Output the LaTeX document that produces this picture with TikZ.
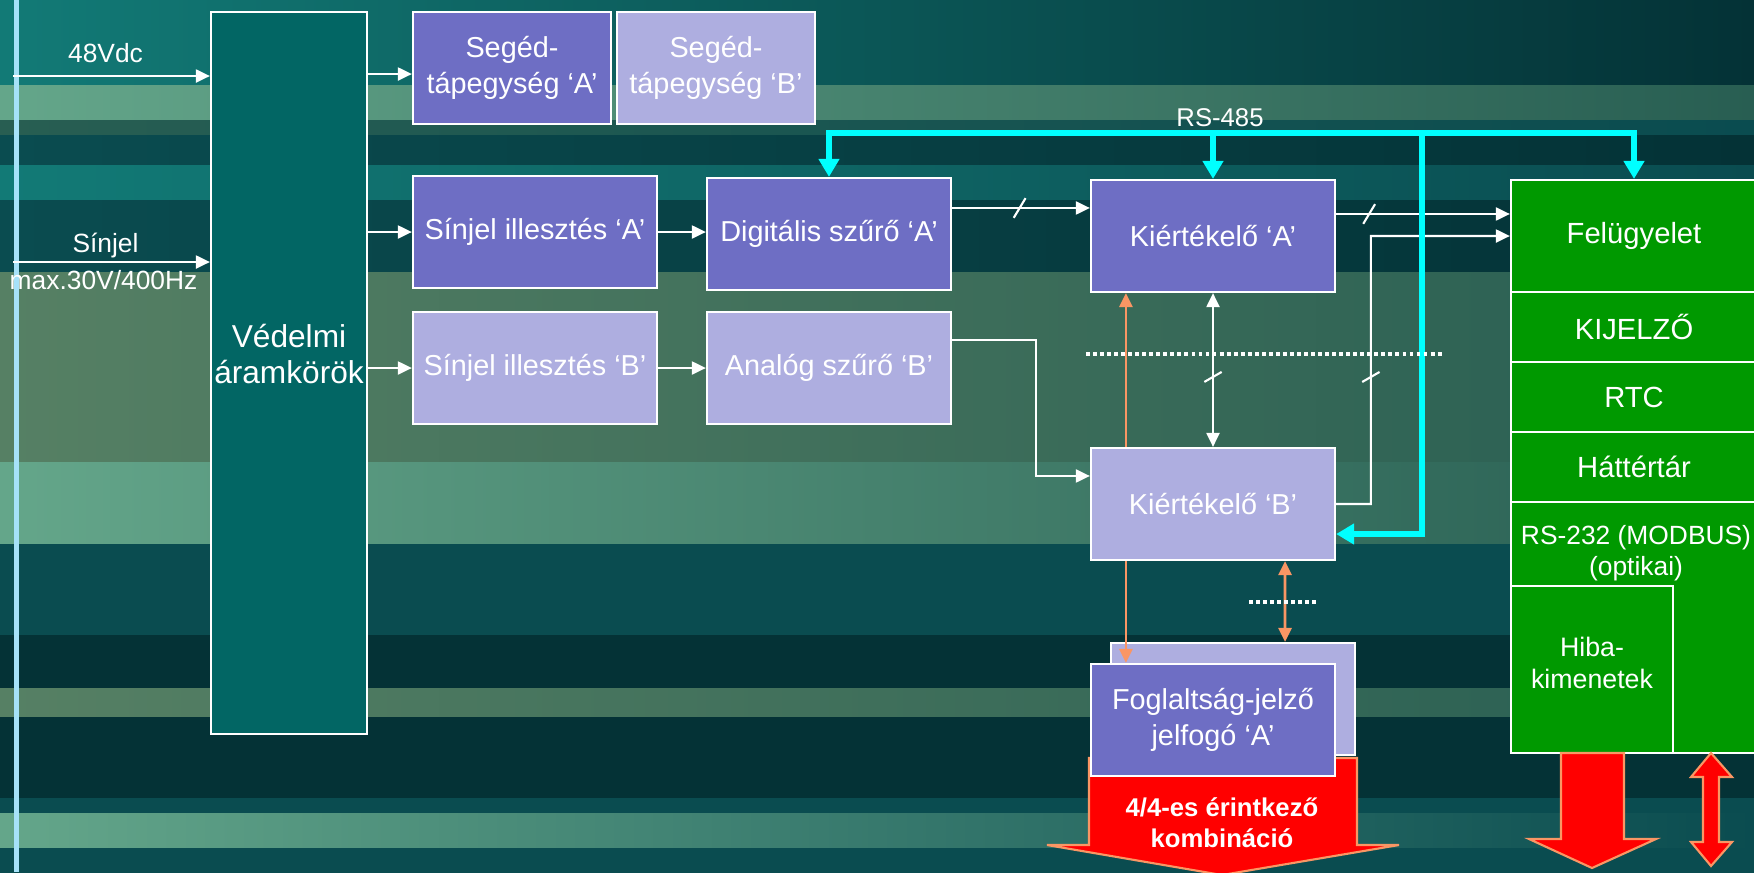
\documentclass[tikz,border=0pt]{standalone}
\usepackage{fontspec}
\setmainfont{Liberation Sans}
\usetikzlibrary{arrows.meta,calc}
\definecolor{boxA}{RGB}{110,110,196}
\definecolor{boxB}{RGB}{174,174,224}
\definecolor{protfill}{RGB}{2,102,100}
\definecolor{supgreen}{RGB}{0,153,0}
\definecolor{busblue}{RGB}{0,255,255}
\definecolor{relayline}{RGB}{250,150,100}
\definecolor{bgtop}{RGB}{18,122,118}
\definecolor{bgdeep}{RGB}{4,50,54}
\definecolor{bglight}{RGB}{100,166,138}
\definecolor{bgmoss}{RGB}{40,94,82}
\definecolor{bgmid}{RGB}{10,76,80}
\definecolor{bgolive}{RGB}{86,128,100}
\begin{document}
\begin{tikzpicture}
  [x=0.01cm,y=-0.01cm,
   block/.style={rectangle,draw=white,line width=0.6pt,inner sep=0pt,align=center,text=white,
     minimum width=2.44cm,minimum height=1.12cm,font=\fontsize{8.2}{10.4}\selectfont},
   blockA/.style={block,fill=boxA},
   blockB/.style={block,fill=boxB},
   cell/.style={block,fill=supgreen,minimum width=2.46cm,minimum height=0.7cm,font=\fontsize{8.3}{10}\selectfont},
   lbl/.style={text=white,align=center,font=\fontsize{7.5}{8.8}\selectfont},
   wire/.style={white,line width=0.6pt},
   sig/.style={wire,-{Triangle[length=1.4mm,width=1.3mm]}},
   dsig/.style={wire,{Triangle[length=1.4mm,width=1.3mm]}-{Triangle[length=1.4mm,width=1.3mm]}},
   link/.style={relayline,line width=0.8pt,-{Triangle[length=1.4mm,width=1.3mm]}},
   dlink/.style={relayline,line width=0.8pt,{Triangle[length=1.4mm,width=1.3mm]}-{Triangle[length=1.4mm,width=1.3mm]}},
   bus/.style={busblue,line width=1.8pt,-{Triangle[length=1.8mm,width=2mm]}},
   sepline/.style={white,line width=1.1pt,dash pattern=on 1.1pt off 0.9pt},
   slashmark/.style={fill=white,inner sep=0pt,minimum width=2.3mm,minimum height=0.6pt,rotate=59},
   vslash/.style={fill=white,inner sep=0pt,minimum width=2mm,minimum height=0.6pt,rotate=30},
   bigarrow/.style={draw=relayline,fill=red,line width=0.6pt}]
\path[use as bounding box] (0,0) rectangle (1754,872); % fixed frame
\foreach \ya/\yb/\cl/\cr in {0/85/bgtop/bgdeep,85/120/bglight/bgmoss,120/135/bgmoss/bgmid,
    135/165/bgmid/bgdeep,165/200/bgtop/bgmid,200/272/bgmid/bgdeep,272/462/bgolive/bgmoss,
    462/544/bglight/bgmoss,544/635/bgmid/bgmid,635/688/bgdeep/bgdeep,688/717/bgolive/bgmoss,
    717/798/bgdeep/bgdeep,798/813/bgmid/bgmid,813/848/bglight/bgmid,848/872/bgmid/bgmid}
  \shade[left color=\cl,right color=\cr] (0,\ya) rectangle (1754,\yb);
\fill[cyan!35!white] (14,0) rectangle (19,872);
%
\node at (289,373) (prot) [block,fill=protfill,minimum width=1.56cm,minimum height=7.22cm,
  text depth=3.9mm,font=\fontsize{9}{10.2}\selectfont] {Védelmi\\áramkörök};
\node at (512,68) (supA) [blockA,minimum width=1.98cm] {Segéd-\\tápegység ‘A’};
\node at (716,68) (supB) [blockB,minimum width=1.98cm] {Segéd-\\tápegység ‘B’};
\node at (535,232) (inA) [blockA] {Sínjel illesztés ‘A’};
\node at (535,368) (inB) [blockB] {Sínjel illesztés ‘B’};
\node at (829,234) (filtA) [blockA] {Digitális szűrő ‘A’};
\node at (829,368) (filtB) [blockB] {Analóg szűrő ‘B’};
\node at (1213,236) (evalA) [blockA] {Kiértékelő ‘A’};
\node at (1213,504) (evalB) [blockB] {Kiértékelő ‘B’};
\node at (1233,699) (relB) [blockB] {};
\path[bigarrow] (1089,758) -- (1357,758) -- (1357,845) -- (1399,845) -- (1222,875)
  -- (1047,845) -- (1089,845) -- cycle;
\node at (1213,720) (relA) [blockA] {Foglaltság-jelző\\jelfogó ‘A’};
\node at (1222,823) (combo) [lbl,font=\bfseries\fontsize{7.3}{8.8}\selectfont] {4/4-es érintkező\\kombináció};
%
\node at (1634,236) (sup) [cell,minimum height=1.12cm] {Felügyelet};
\node at (1634,327) (disp) [cell] {KIJELZŐ};
\node at (1634,397) (rtc) [cell] {RTC};
\node at (1634,467) (store) [cell] {Háttértár};
\node at (1634,627.5) (com) [cell,minimum height=2.51cm] {};
\node at (1636,553) (comtxt) [lbl] {RS-232 (MODBUS)\\(optikai)};
\node at (1592,669.5) (fault) [cell,minimum width=1.62cm,minimum height=1.67cm,text depth=1.4mm,
  font=\fontsize{7.6}{9.1}\selectfont] {Hiba-\\kimenetek};
\path[bigarrow] (1561,753) -- (1624,753) -- (1624,839) -- (1656,839) -- (1592,868)
  -- (1529,839) -- (1561,839) -- cycle;
\path[bigarrow] (1711,753) -- (1732,777) -- (1719,777) -- (1719,842) -- (1732,842) -- (1711,866)
  -- (1691,842) -- (1703,842) -- (1703,777) -- (1691,777) -- cycle;
%
\coordinate (dcin) at (13,76);
\coordinate (sigin) at (13,262);
\draw[sig] (dcin) -- (dcin -| prot.west) node[pos=0.47,above=0mm,lbl] (dclbl) {48Vdc};
\draw[sig] (sigin) -- (sigin -| prot.west)
  node[pos=0.47,above=-0.9mm,lbl] (siglbl) {Sínjel}
  node[pos=0.46,below=-0.4mm,lbl] (rangelbl) {max.30V/400Hz};
\coordinate (pa) at ([yshift=-0.6mm]supA.west);
\draw[sig] (prot.east |- pa) -- (pa);
\draw[sig] (prot.east |- inA.west) -- (inA.west);
\draw[sig] (prot.east |- inB.west) -- (inB.west);
\draw[sig] (inA.east) -- (inA.east -| filtA.west);
\draw[sig] (inB) -- (filtB);
\coordinate (fa) at ([yshift=2.6mm]filtA.east);
\draw[sig] (fa) -- (fa -| evalA.west) node[pos=0.49,slashmark] (cut1) {};
\coordinate (ea) at ([yshift=2.2mm]evalA.east);
\draw[sig] (ea) -- (ea -| sup.west) node[pos=0.19,slashmark] (cut2) {};
\coordinate (fb) at ([yshift=2.8mm]filtB.east);
\coordinate (kb) at ([yshift=2.8mm]evalB.west);
\draw[sig] (fb) -| ($(fb)!0.61!(kb)$) |- (kb);
\coordinate (kbout) at ($(evalB.east)!0.2!(evalB.east -| sup.west)$);
\draw[sig] (evalB.east) -- (kbout) -- (kbout |- sup.west) node[pos=0.474,vslash] (cut3) {} -- (sup.west);
\draw[dsig] (evalA.south) -- (evalB.north) node[pos=0.545,vslash] (cut4) {};
%
\coordinate (tap) at (1422,133);
\draw[bus] (tap) -| (filtA.north);
\draw[bus] (tap) -| (sup.north);
\draw[bus] (tap) |- ([yshift=-3mm]evalB.east);
\draw[bus] (evalA.north |- tap) -- (evalA.north);
\node at (evalA.north |- tap) (rs485) [lbl,above=-0.6mm,xshift=0.07cm,font=\fontsize{7.3}{8.8}\selectfont] {RS-485};
%
\draw[link] ([xshift=-8.7mm]evalB.north) -- ([xshift=-8.7mm]evalA.south);
\draw[link] ([xshift=-8.7mm]evalB.south) -- ([xshift=-8.7mm]relA.north);
\draw[dlink] ([xshift=7.2mm]evalB.south) -- ([xshift=5.2mm]relB.north);
\coordinate (sepL) at (1086,354);
\coordinate (sepR) at (1442,354);
\draw[sepline] (sepL) -- (sepR);
\coordinate (gapL) at (1249,602);
\coordinate (gapR) at (1318,602);
\draw[sepline] (gapL) -- (gapR);
\end{tikzpicture}
\end{document}
